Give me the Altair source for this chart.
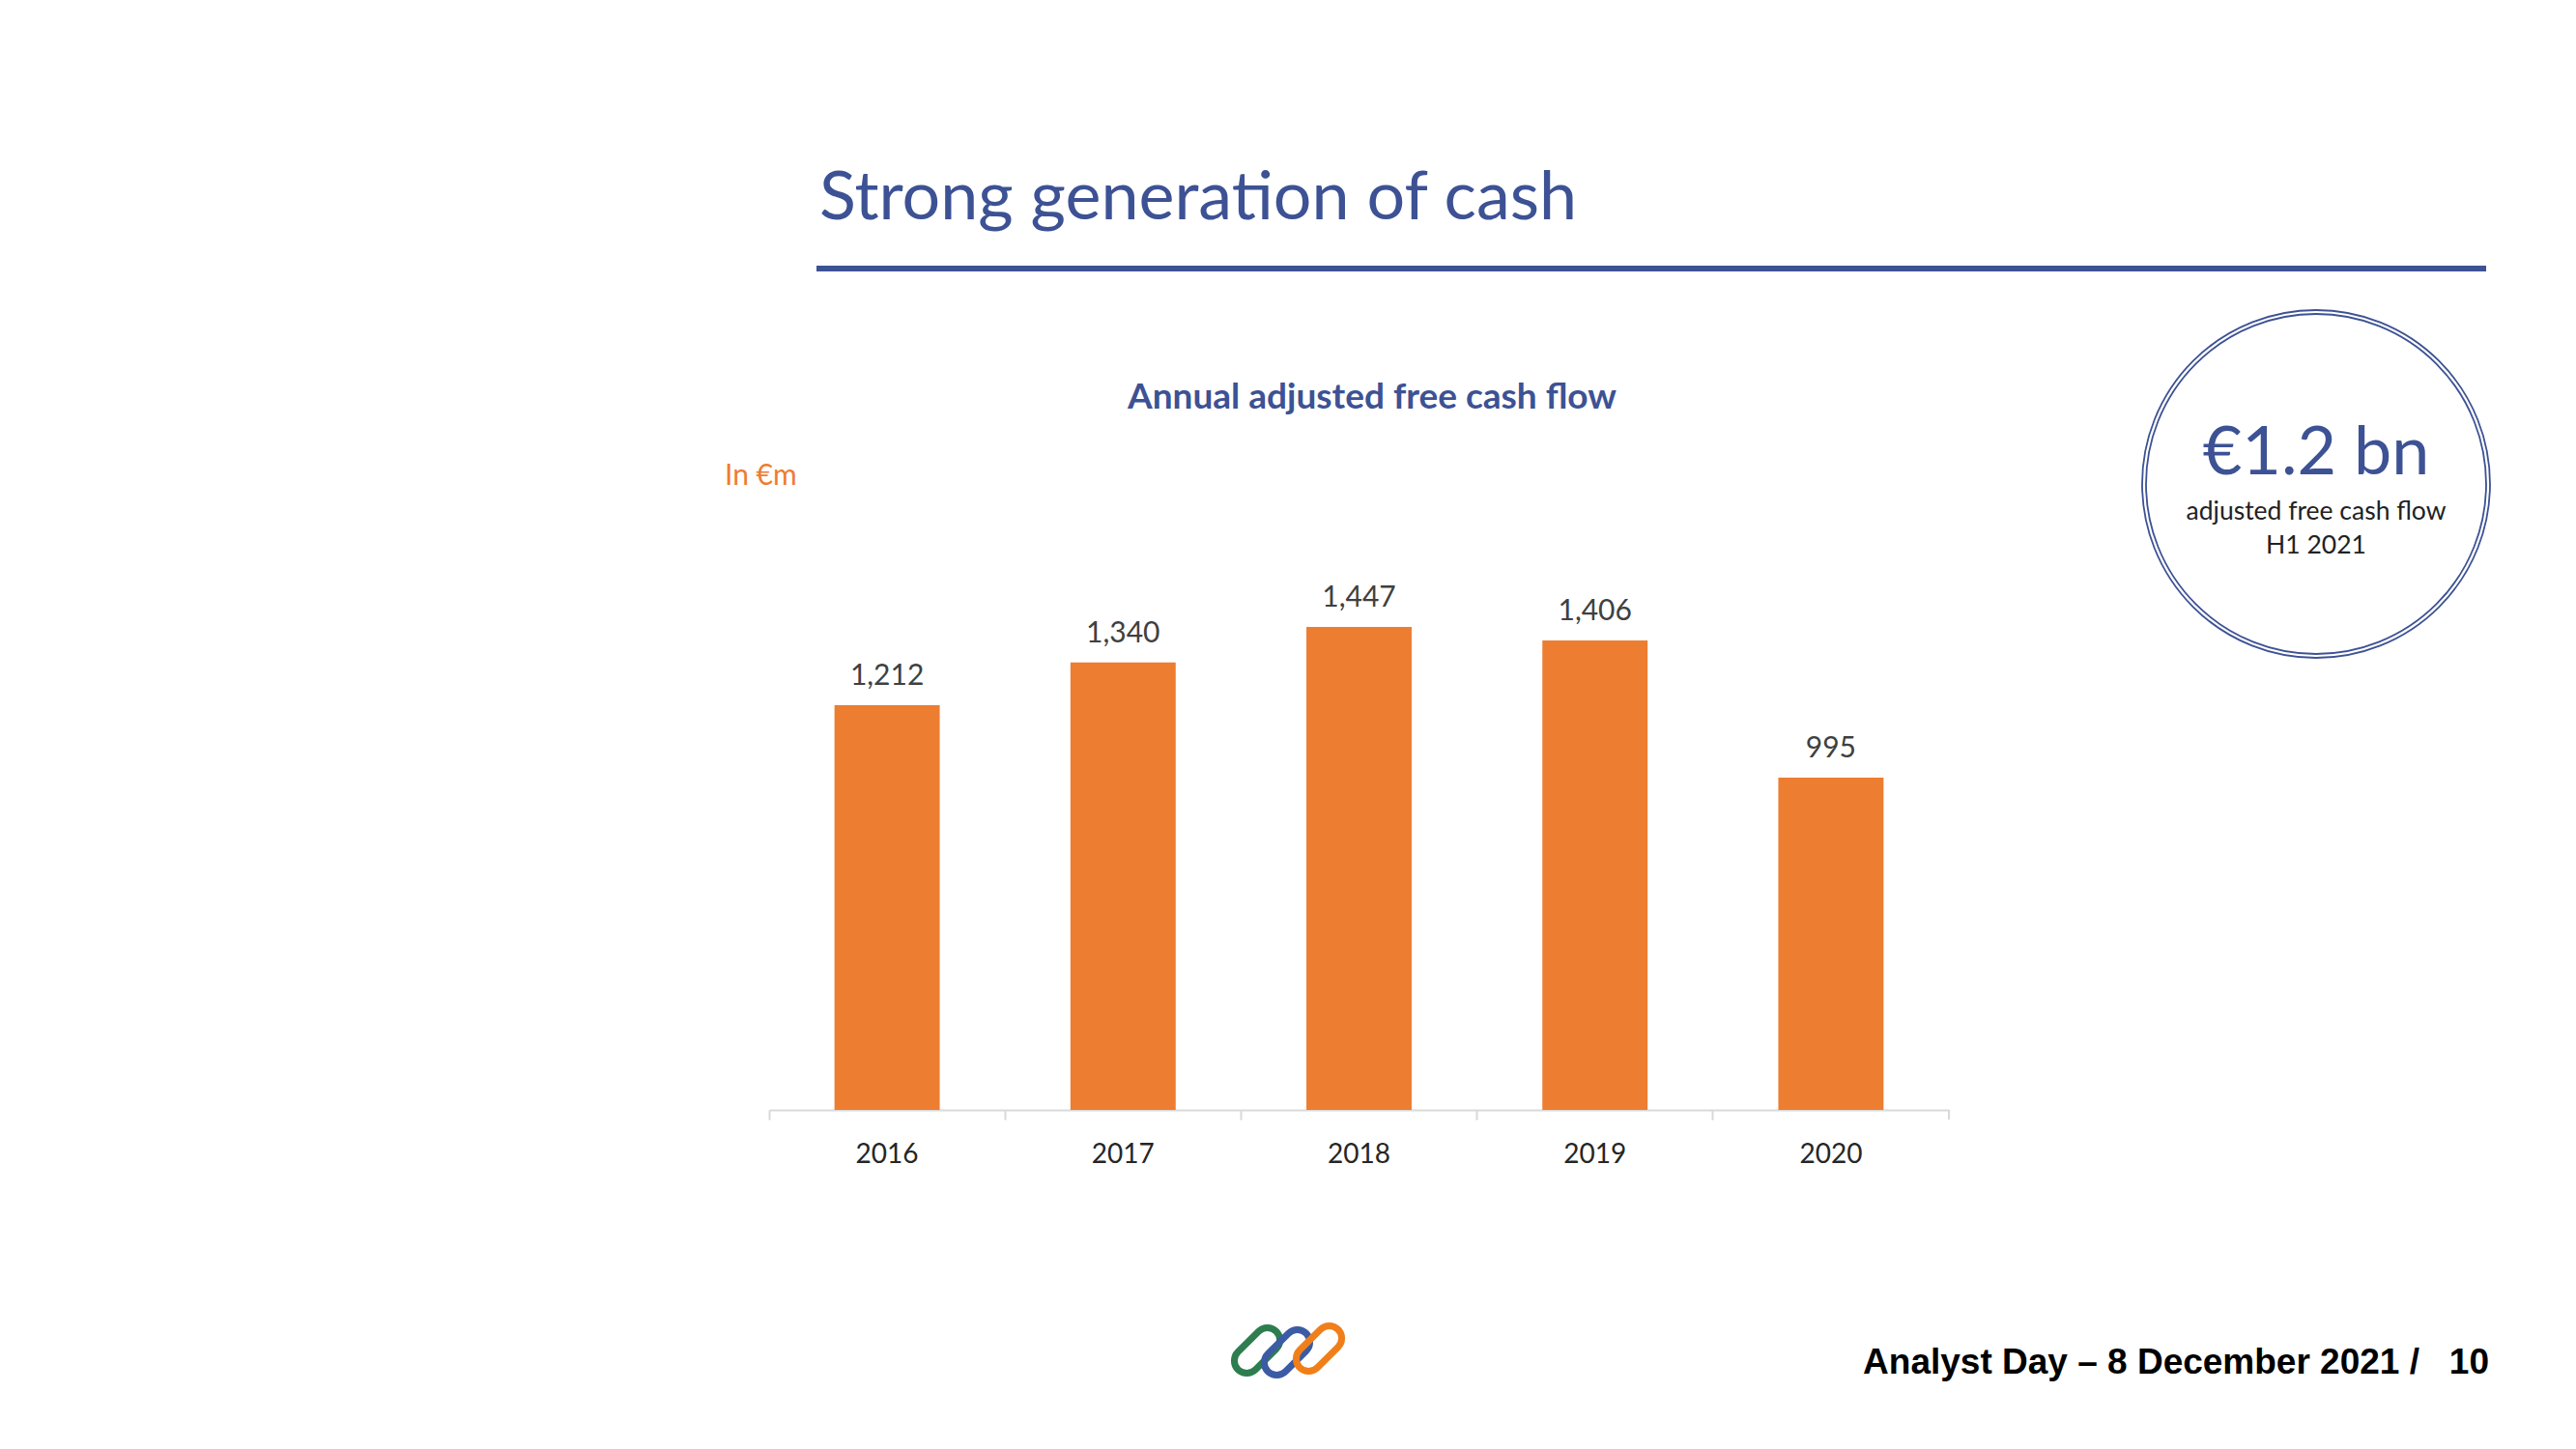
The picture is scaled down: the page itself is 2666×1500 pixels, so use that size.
import altair as alt
import pandas as pd

# ---- data ----
years = ["2016", "2017", "2018", "2019", "2020"]
fcf = [1212, 1340, 1447, 1406, 995]
value_labels = ["1,212", "1,340", "1,447", "1,406", "995"]

TITLE = "Strong generation of cash"
SUBTITLE = "Annual adjusted free cash flow"
UNIT = "In €m"
KPI = "€1.2 bn"
KPI_L1 = "adjusted free cash flow"
KPI_L2 = "H1 2021"
FOOTER = "Analyst Day – 8 December 2021 /\u00a0\u00a0\u00a010"

BLUE = "#3D5294"
ORANGE = "#ED7D31"
GREEN = "#2E7D4F"
LOGO_BLUE = "#3B5BA5"
LOGO_ORANGE = "#F07F1A"

df = pd.DataFrame({"year": years, "fcf": fcf, "label": value_labels})

W, H = 1221, 553

axis_x = alt.Axis(
    title=None, labelAngle=0, bandPosition=0,
    domainColor="#d9d9d9", domainWidth=2,
    tickColor="#d9d9d9", tickWidth=2, tickSize=10,
    labelFont="Lato", labelFontSize=28, labelColor="#262626",
    labelPadding=44, labelBaseline="alphabetic", grid=False,
)
xscale = alt.Scale(paddingInner=0, paddingOuter=0)
x_enc = alt.X("year:O", sort=years, scale=xscale, axis=axis_x)
y_enc = alt.Y("fcf:Q", scale=alt.Scale(domain=[0, 1600], nice=False), axis=None)

bars = alt.Chart(df).mark_bar(color=ORANGE, width=alt.RelativeBandSize(0.446)).encode(
    x=x_enc, y=y_enc
)
labels = alt.Chart(df).mark_text(
    baseline="alphabetic", dy=-21, font="Lato", fontSize=30, color="#404040"
).encode(x=x_enc, y=y_enc, text="label:N")

end_tick = alt.Chart(df).transform_filter(alt.datum.year == "2020").mark_rule(
    color="#d9d9d9", strokeWidth=2
).encode(
    x=alt.X("year:O", sort=years, scale=xscale, axis=axis_x, bandPosition=1),
    y=alt.value(H), y2=alt.value(H + 10),
)


def txt(s, x, y, **kw):
    return alt.Chart(pd.DataFrame({"t": [s]})).mark_text(**kw).encode(
        x=alt.value(x), y=alt.value(y), text="t:N"
    )


def one():
    return alt.Chart(pd.DataFrame({"a": [0]}))


title = txt(TITLE, 52, -369, font="Lato", fontSize=70, color=BLUE, align="left", baseline="alphabetic")
underline = one().mark_rule(color=BLUE, strokeWidth=6).encode(
    x=alt.value(49), x2=alt.value(1777), y=alt.value(-318)
)
subtitle = txt(SUBTITLE, 624, -173, font="Lato", fontSize=37, fontWeight="bold", color=BLUE,
               align="center", baseline="alphabetic")
unit = txt(UNIT, -46, -94, font="Lato", fontSize=30, color=ORANGE, align="left", baseline="alphabetic")

circ_outer = one().mark_point(shape="circle", filled=False, size=129600, strokeWidth=1.8,
                              color=BLUE, opacity=1).encode(x=alt.value(1601), y=alt.value(-95))
circ_inner = one().mark_point(shape="circle", filled=False, size=123904, strokeWidth=1.8,
                              color=BLUE, opacity=1).encode(x=alt.value(1601), y=alt.value(-95))
kpi = txt(KPI, 1601, -105, font="Lato", fontSize=70, color=BLUE, align="center", baseline="alphabetic")
kpi1 = txt(KPI_L1, 1601, -58, font="Lato", fontSize=26.5, color="#222222", align="center", baseline="alphabetic")
kpi2 = txt(KPI_L2, 1601, -23, font="Lato", fontSize=26.5, color="#222222", align="center", baseline="alphabetic")

footer = txt(FOOTER, 1780, 826, font="'Liberation Sans Narrow', 'Liberation Sans', Arial",
             fontSize=37, fontWeight="bold", color="#000000", align="right",
             baseline="alphabetic")

LINK = ("M -0.54,-0.46 L 0.54,-0.46 A 0.46,0.46 0 0 1 0.54,0.46 "
        "L -0.54,0.46 A 0.46,0.46 0 0 1 -0.54,-0.46 Z")


def link(color, x, y):
    return one().mark_point(shape=LINK, filled=False, size=3136, angle=315, strokeWidth=7,
                            color=color, opacity=1).encode(x=alt.value(x), y=alt.value(y))


logo = [link(GREEN, 505, 802), link(LOGO_BLUE, 536, 804), link(LOGO_ORANGE, 569, 800)]

chart = alt.layer(
    bars, labels, end_tick, title, underline, subtitle, unit,
    circ_outer, circ_inner, kpi, kpi1, kpi2, footer, *logo
).properties(
    width=W, height=H,
    autosize="none",
    padding={"left": 788, "top": 588, "right": 641, "bottom": 343},
    background="white",
).configure_view(stroke=None)

chart.save("out.html", embed_options={"renderer": "svg", "actions": False})
